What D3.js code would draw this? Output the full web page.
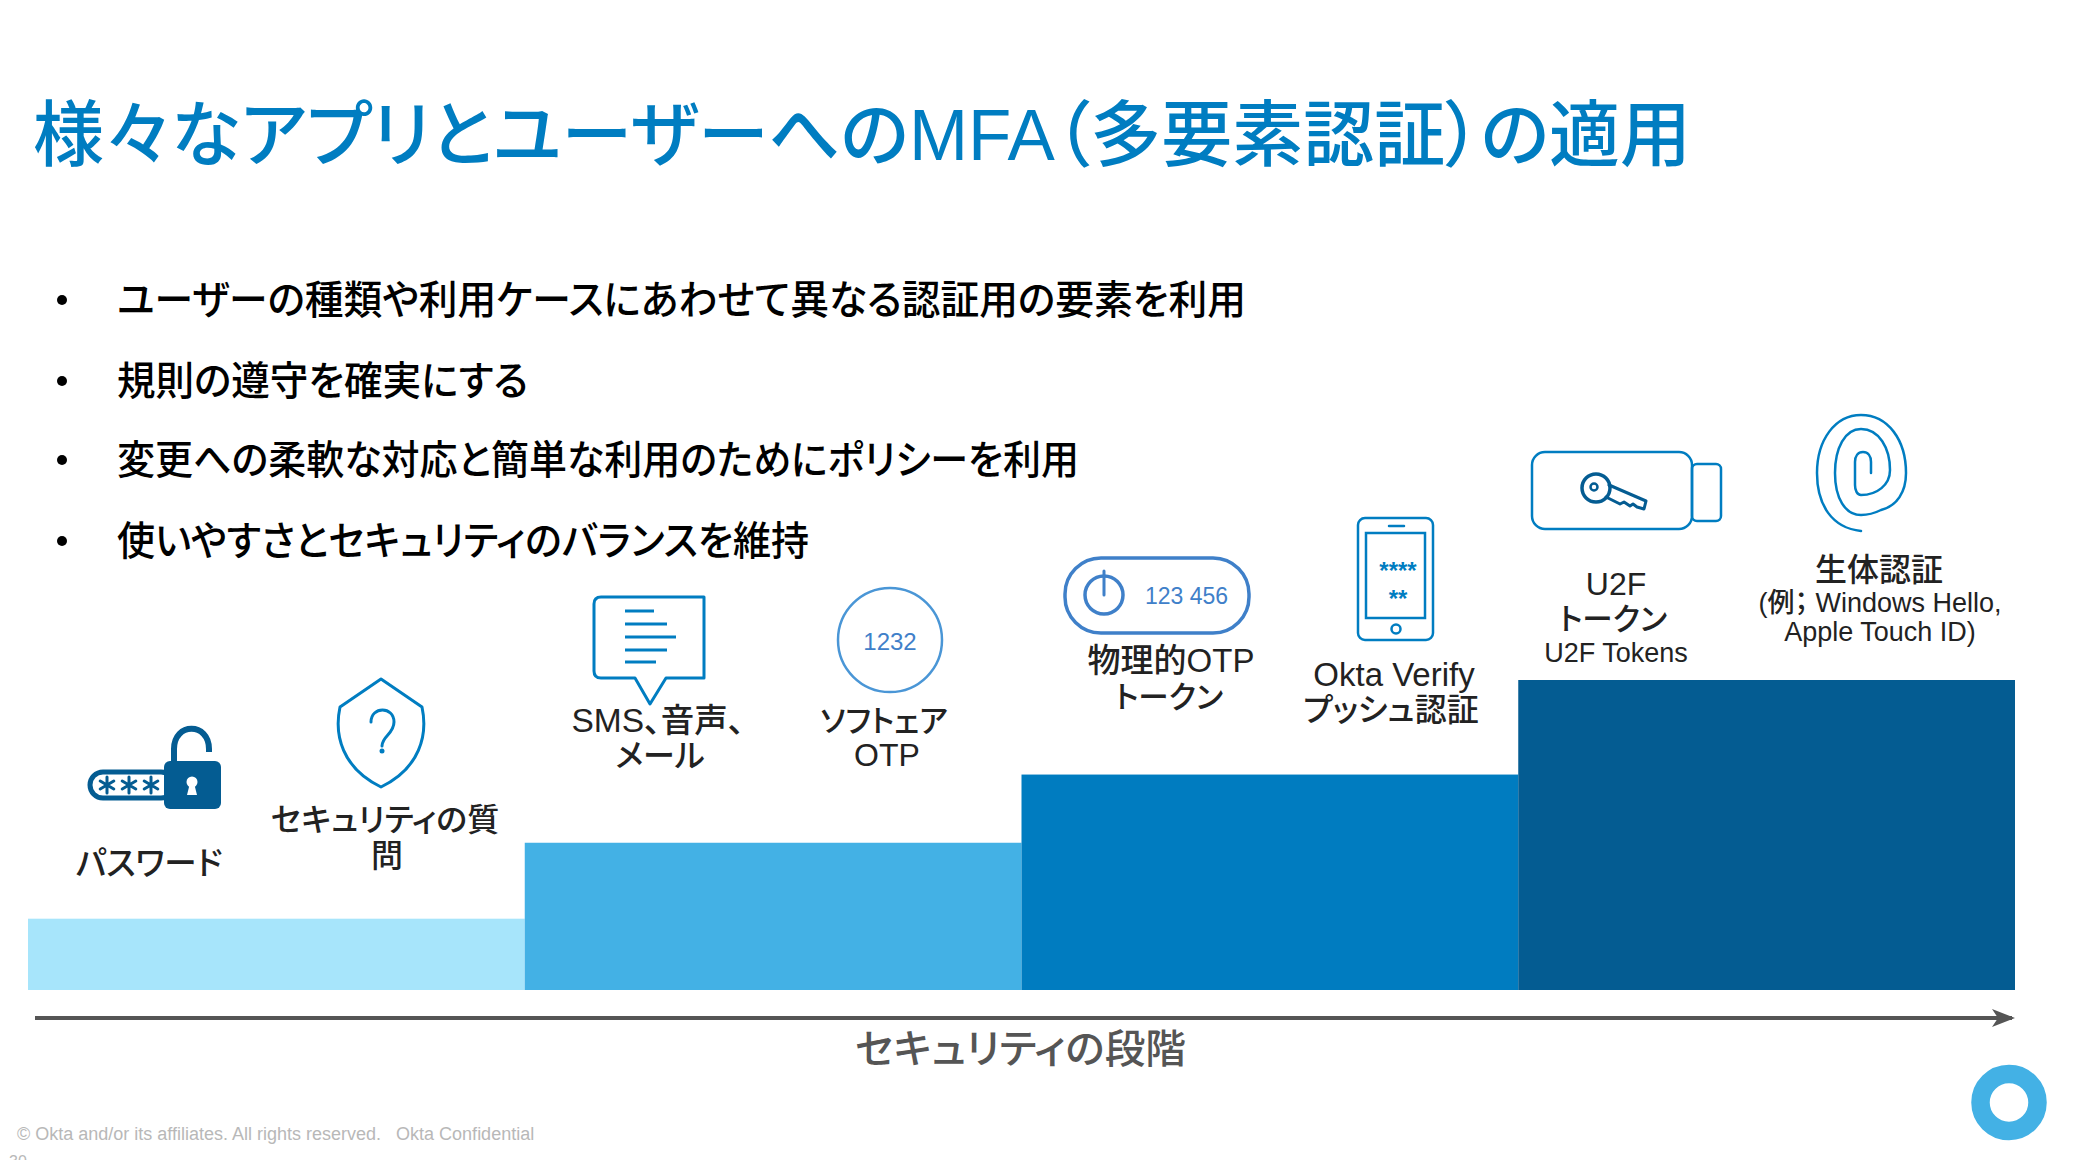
<!DOCTYPE html>
<html lang="ja">
<head>
<meta charset="utf-8">
<title>MFA</title>
<script src="https://cdn.jsdelivr.net/npm/d3@7/dist/d3.min.js"></script>
<style>
html,body{margin:0;padding:0;background:#fff;overflow:hidden}
svg{display:block}
text{font-family:"Liberation Sans","Noto Sans CJK JP",sans-serif}
.jp{font-feature-settings:"palt";font-weight:500}
</style>
</head>
<body>
<div id="chart"></div>
<script>
// ---- data ----
const tiers = ["低", "中低", "中高", "高"];
const tierLevels = [23, 47.5, 69.5, 100];
const tierColors = ["#a7e5fb", "#43b1e5", "#007cc0", "#045c92"];
const titleText = "様々なアプリとユーザーへのMFA（多要素認証）の適用";
const bullets = [
  "ユーザーの種類や利用ケースにあわせて異なる認証用の要素を利用",
  "規則の遵守を確実にする",
  "変更への柔軟な対応と簡単な利用のためにポリシーを利用",
  "使いやすさとセキュリティのバランスを維持"
];
const axisLabel = "セキュリティの段階";
const footerText = "© Okta and/or its affiliates. All rights reserved.   Okta Confidential";
const pageNumber = "30";
const factorLabels = [
  "パスワード", "セキュリティの質", "問", "SMS、音声、", "メール", "ソフトェア", "OTP",
  "物理的OTP", "トークン", "Okta Verify", "プッシュ認証", "U2F", "トークン", "U2F Tokens",
  "生体認証", "(例； Windows Hello,", "Apple Touch ID)"
];

// ---- layout (separate from values) ----
const W = 2078, H = 1160;
const labelLayout = [
  [149,875,32.5],[385,831,32],[387,867,32],[658,732,33.5],[660,767,32],[884,732,30.5],[887,766,32],
  [1171,672,33],[1169,708,30.5],[1394,686,33],[1391,721,32],[1616,595,32],[1613,630,30.5],[1616,662,27],
  [1879,581,32],[1880,612,27],[1880,641,27]
];
const bulletBaselines = [314, 395, 474, 555];
const bulletWidths = [1129, 411, 962, 692];

const svg = d3.select("#chart").append("svg").attr("width", W).attr("height", H).attr("viewBox", `0 0 ${W} ${H}`);
const x = d3.scaleBand().domain(tiers).range([28, 2015]).paddingInner(0).paddingOuter(0);
const y = d3.scaleLinear().domain([0, 100]).range([990, 680]);

// title
svg.append("text").attr("class", "jp").attr("x", 33).attr("y", 160).attr("font-size", 72).attr("fill", "#007dc1")
  .attr("textLength", 1658).attr("lengthAdjust", "spacingAndGlyphs").text(titleText);

// bullets
svg.append("g").selectAll("text").data(bullets).join("text").attr("class", "jp")
  .attr("x", 117).attr("y", (d, i) => bulletBaselines[i]).attr("font-size", 40).attr("fill", "#000")
  .attr("textLength", (d, i) => bulletWidths[i]).attr("lengthAdjust", "spacingAndGlyphs").text(d => d);
svg.append("g").selectAll("circle").data(bullets).join("circle")
  .attr("cx", 62).attr("cy", (d, i) => bulletBaselines[i] - 14).attr("r", 5).attr("fill", "#000");

// bars
svg.append("g").selectAll("rect").data(tiers).join("rect")
  .attr("x", d => x(d)).attr("width", x.bandwidth())
  .attr("y", (d, i) => y(tierLevels[i])).attr("height", (d, i) => y(0) - y(tierLevels[i]))
  .attr("fill", (d, i) => tierColors[i]);

// security axis arrow
svg.append("line").attr("x1", 35).attr("x2", 2012).attr("y1", 1018).attr("y2", 1018).attr("stroke", "#555").attr("stroke-width", 4);
svg.append("path").attr("d", "M1992,1009 L2015,1018 L1992,1027 L1998,1018 Z").attr("fill", "#555");
svg.append("text").attr("class", "jp").attr("x", 855).attr("y", 1063).attr("font-size", 40).attr("fill", "#555")
  .attr("textLength", 331).attr("lengthAdjust", "spacingAndGlyphs").text(axisLabel);

// factor labels
svg.append("g").selectAll("text").data(factorLabels).join("text").attr("class", "jp")
  .attr("x", (d, i) => labelLayout[i][0]).attr("y", (d, i) => labelLayout[i][1])
  .attr("font-size", (d, i) => labelLayout[i][2]).attr("text-anchor", "middle").attr("fill", "#222").text(d => d);

// footer
svg.append("text").attr("x", 17).attr("y", 1140).attr("font-size", 18).attr("fill", "#b8b8b8").style("white-space", "pre").text(footerText);
svg.append("text").attr("x", 9).attr("y", 1167).attr("font-size", 16).attr("fill", "#b8b8b8").text(pageNumber);

// logo
svg.append("circle").attr("cx", 2009).attr("cy", 1102.5).attr("r", 28.5).attr("fill", "none").attr("stroke", "#43b1e5").attr("stroke-width", 18.5);

// ---- icons ----
const blue = "#007dc1", navy = "#045c92", soft = "#3f80c9";
const line = (g, d, c = blue, w = 3) => g.append("path").attr("d", d).attr("fill", "none").attr("stroke", c).attr("stroke-width", w).attr("stroke-linecap", "round").attr("stroke-linejoin", "round");
const icons = svg.append("g");

// password lock
const lock = icons.append("g");
lock.append("rect").attr("x", 90).attr("y", 772).attr("width", 84).attr("height", 26).attr("rx", 13).attr("fill", "#fff").attr("stroke", navy).attr("stroke-width", 5);
[107, 129, 151].forEach(cx => {
  const s = 8;
  line(lock, `M${cx},${785 - s} V${785 + s} M${cx - s * .85},${785 - s / 2} L${cx + s * .85},${785 + s / 2} M${cx - s * .85},${785 + s / 2} L${cx + s * .85},${785 - s / 2}`, navy, 3);
});
lock.append("rect").attr("x", 164).attr("y", 761).attr("width", 57).attr("height", 48).attr("rx", 6).attr("fill", navy);
line(lock, "M174,761 V749 C174,722 209,722 209,749 V752", navy, 6).attr("stroke-linecap", "butt");
lock.append("circle").attr("cx", 192).attr("cy", 782).attr("r", 5.5).attr("fill", "#fff");
lock.append("path").attr("d", "M190,783 L187,795 H197 L194,783 Z").attr("fill", "#fff");

// shield
const shield = icons.append("g");
line(shield, "M381,679 L340,707 C334,735 342,768 381,787 C420,768 428,735 422,707 Z", blue, 3);
line(shield, "M371,722 C371,706 394,706 394,722 C394,734 382,736 382,746", blue, 3);
shield.append("circle").attr("cx", 382).attr("cy", 751).attr("r", 2.5).attr("fill", blue);

// speech bubble
const bubble = icons.append("g");
line(bubble, "M601,597 H704 V678 H666 L650,704 L635,678 H601 Q594,678 594,671 V604 Q594,597 601,597 Z");
d3.zip([611, 624, 637, 650, 662], [654, 667, 676, 667, 656]).forEach(([ly, lx]) =>
  bubble.append("line").attr("x1", 625).attr("x2", lx).attr("y1", ly).attr("y2", ly).attr("stroke", blue).attr("stroke-width", 3));

// software OTP
const soft1 = icons.append("g");
soft1.append("circle").attr("cx", 890).attr("cy", 640).attr("r", 52).attr("fill", "none").attr("stroke", "#4a96d6").attr("stroke-width", 2.5);
soft1.append("text").attr("x", 890).attr("y", 650).attr("text-anchor", "middle").attr("font-size", 24).attr("fill", soft).text("1232");

// hardware token
const tok = icons.append("g");
tok.append("rect").attr("x", 1065).attr("y", 558).attr("width", 184).attr("height", 75).attr("rx", 36).attr("fill", "none").attr("stroke", soft).attr("stroke-width", 3.5);
tok.append("circle").attr("cx", 1104).attr("cy", 595).attr("r", 19).attr("fill", "none").attr("stroke", soft).attr("stroke-width", 3.5);
line(tok, "M1104,571 V595", soft, 3);
tok.append("text").attr("x", 1145).attr("y", 604).attr("font-size", 23).attr("fill", soft).text("123 456");

// phone
const ph = icons.append("g");
ph.append("rect").attr("x", 1358).attr("y", 518).attr("width", 75).attr("height", 122).attr("rx", 7).attr("fill", "none").attr("stroke", blue).attr("stroke-width", 2.5);
ph.append("rect").attr("x", 1366).attr("y", 533).attr("width", 59).attr("height", 85).attr("fill", "none").attr("stroke", blue).attr("stroke-width", 2.5);
line(ph, "M1389,526 H1404", blue, 2.5);
ph.append("circle").attr("cx", 1396).attr("cy", 629).attr("r", 4.5).attr("fill", "none").attr("stroke", blue).attr("stroke-width", 2.5);
ph.selectAll("text").data([["****", 579], ["**", 607]]).join("text").attr("x", 1398).attr("y", d => d[1])
  .attr("text-anchor", "middle").attr("font-size", 24).attr("font-weight", 700).attr("fill", blue).text(d => d[0]);

// U2F key
const u2f = icons.append("g");
u2f.append("rect").attr("x", 1532).attr("y", 452).attr("width", 160).attr("height", 77).attr("rx", 13).attr("fill", "none").attr("stroke", blue).attr("stroke-width", 2.5);
u2f.append("rect").attr("x", 1692).attr("y", 464).attr("width", 29).attr("height", 57).attr("rx", 5).attr("fill", "none").attr("stroke", blue).attr("stroke-width", 2.5);
u2f.append("circle").attr("cx", 1596).attr("cy", 488).attr("r", 14).attr("fill", "none").attr("stroke", navy).attr("stroke-width", 3.5);
u2f.append("circle").attr("cx", 1594).attr("cy", 487).attr("r", 3.5).attr("fill", "none").attr("stroke", navy).attr("stroke-width", 2.5);
line(u2f, "M1609,485 L1646,501 L1644,509 L1637,507 L1633,504 L1630,506 L1624,502 L1620,504 L1606,497", navy, 3);

// fingerprint
line(icons.append("g"), "M1861,531 C1832,528 1817,505 1817,473 C1817,440 1835,415 1861,415 C1888,415 1906,440 1906,473 C1906,492 1897,506 1881,510 C1875,513 1868,515 1861,515 C1845,515 1835,498 1835,473 C1835,448 1845,429 1861,429 C1879,429 1890,448 1890,470 C1890,485 1877,495 1861,495 C1857,495 1855,490 1855,485 V462 C1855,456 1858,452 1863,452 C1868,452 1871,456 1871,462 V473", blue, 2.5);
</script>
</body>
</html>
